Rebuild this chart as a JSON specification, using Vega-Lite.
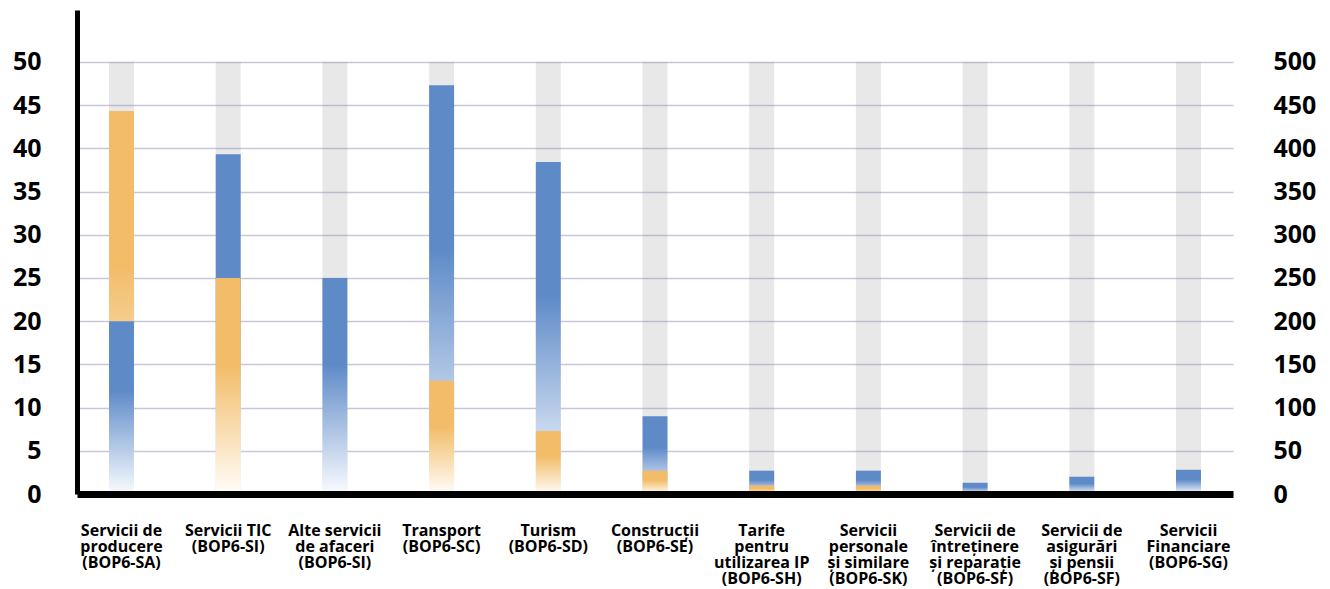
{
  "$schema": "https://vega.github.io/schema/vega-lite/v6.json",
  "width": 1156,
  "height": 484,
  "autosize": {"type": "none"},
  "padding": {"left": 77, "top": 10, "right": 97, "bottom": 95},
  "background": "white",
  "config": {
    "view": {"stroke": null},
    "font": "Open Sans",
    "axis": {"labelFont": "Open Sans", "labelFontWeight": "bold", "labelColor": "#000000", "title": null}
  },
  "data": {
    "values": [
      {"category": "Servicii de\nproducere\n(BOP6-SA)", "series": "Seria 1", "value": 20.0},
      {"category": "Servicii de\nproducere\n(BOP6-SA)", "series": "Seria 2", "value": 44.3},
      {"category": "Servicii TIC\n(BOP6-SI)", "series": "Seria 1", "value": 39.3},
      {"category": "Servicii TIC\n(BOP6-SI)", "series": "Seria 2", "value": 25.0},
      {"category": "Alte servicii\nde afaceri\n(BOP6-SI)", "series": "Seria 1", "value": 25.0},
      {"category": "Alte servicii\nde afaceri\n(BOP6-SI)", "series": "Seria 2", "value": 0},
      {"category": "Transport\n(BOP6-SC)", "series": "Seria 1", "value": 47.3},
      {"category": "Transport\n(BOP6-SC)", "series": "Seria 2", "value": 13.1},
      {"category": "Turism\n(BOP6-SD)", "series": "Seria 1", "value": 38.4},
      {"category": "Turism\n(BOP6-SD)", "series": "Seria 2", "value": 7.3},
      {"category": "Construcții\n(BOP6-SE)", "series": "Seria 1", "value": 9.0},
      {"category": "Construcții\n(BOP6-SE)", "series": "Seria 2", "value": 2.7},
      {"category": "Tarife\npentru\nutilizarea IP\n(BOP6-SH)", "series": "Seria 1", "value": 2.7},
      {"category": "Tarife\npentru\nutilizarea IP\n(BOP6-SH)", "series": "Seria 2", "value": 1.0},
      {"category": "Servicii\npersonale\nși similare\n(BOP6-SK)", "series": "Seria 1", "value": 2.7},
      {"category": "Servicii\npersonale\nși similare\n(BOP6-SK)", "series": "Seria 2", "value": 1.0},
      {"category": "Servicii de\nîntreținere\nși reparație\n(BOP6-SF)", "series": "Seria 1", "value": 1.3},
      {"category": "Servicii de\nîntreținere\nși reparație\n(BOP6-SF)", "series": "Seria 2", "value": 0},
      {"category": "Servicii de\nasigurări\nși pensii\n(BOP6-SF)", "series": "Seria 1", "value": 2.0},
      {"category": "Servicii de\nasigurări\nși pensii\n(BOP6-SF)", "series": "Seria 2", "value": 0},
      {"category": "Servicii\nFinanciare\n(BOP6-SG)", "series": "Seria 1", "value": 2.8},
      {"category": "Servicii\nFinanciare\n(BOP6-SG)", "series": "Seria 2", "value": 0}
    ]
  },
  "encoding": {
    "x": {
      "field": "category",
      "type": "nominal",
      "sort": null,
      "scale": {
        "domain": [
          "Servicii de\nproducere\n(BOP6-SA)",
          "Servicii TIC\n(BOP6-SI)",
          "Alte servicii\nde afaceri\n(BOP6-SI)",
          "Transport\n(BOP6-SC)",
          "Turism\n(BOP6-SD)",
          "Construcții\n(BOP6-SE)",
          "Tarife\npentru\nutilizarea IP\n(BOP6-SH)",
          "Servicii\npersonale\nși similare\n(BOP6-SK)",
          "Servicii de\nîntreținere\nși reparație\n(BOP6-SF)",
          "Servicii de\nasigurări\nși pensii\n(BOP6-SF)",
          "Servicii\nFinanciare\n(BOP6-SG)"
        ],
        "paddingInner": 0.766,
        "paddingOuter": 0.3
      },
      "axis": {
        "labelExpr": "split(datum.label, '\\n')",
        "labelAngle": 0,
        "labelAlign": "center",
        "labelBaseline": "top",
        "labelFontSize": 16,
        "labelLineHeight": 16,
        "labelPadding": 28,
        "labelLimit": 0,
        "ticks": false,
        "tickSize": 0,
        "domain": true,
        "domainColor": "#000000",
        "domainWidth": 7,
        "grid": false,
        "zindex": 1
      }
    }
  },
  "layer": [
    {
      "transform": [{"filter": "datum.series === 'Seria 1'"}],
      "mark": {"type": "bar", "color": "#8c8c8c", "opacity": 0.2},
      "encoding": {
        "y": {
          "datum": 500,
          "type": "quantitative",
          "scale": {"domain": [0, 560], "nice": false},
          "axis": {
            "orient": "right",
            "values": [0, 50, 100, 150, 200, 250, 300, 350, 400, 450, 500],
            "grid": false,
            "domain": false,
            "ticks": false,
            "tickSize": 0,
            "labelPadding": 40,
            "labelFontSize": 25,
            "labelAlign": "left",
            "labelBaseline": "middle"
          }
        }
      }
    },
    {
      "mark": {"type": "bar"},
      "encoding": {
        "y": {
          "field": "value",
          "type": "quantitative",
          "stack": null,
          "scale": {"domain": [0, 56], "nice": false},
          "axis": {
            "orient": "left",
            "values": [0, 5, 10, 15, 20, 25, 30, 35, 40, 45, 50],
            "grid": true,
            "gridColor": "#c9c6dc",
            "gridWidth": 1.5,
            "domain": true,
            "domainColor": "#000000",
            "domainWidth": 5,
            "ticks": false,
            "tickSize": 0,
            "labelPadding": 36,
            "labelFontSize": 25,
            "labelAlign": "right",
            "labelBaseline": "middle"
          }
        },
        "order": {"field": "value", "type": "quantitative", "sort": "descending"},
        "color": {
          "condition": {
            "test": "datum.series === 'Seria 2'",
            "value": {
              "gradient": "linear",
              "x1": 0, "y1": 1, "x2": 0, "y2": 0,
              "stops": [
                {"offset": 0, "color": "#fffdf9"},
                {"offset": 0.6, "color": "#f2bc68"},
                {"offset": 1, "color": "#f2bc68"}
              ]
            }
          },
          "value": {
            "gradient": "linear",
            "x1": 0, "y1": 1, "x2": 0, "y2": 0,
            "stops": [
              {"offset": 0, "color": "#fafcff"},
              {"offset": 0.6, "color": "#5e8ac8"},
              {"offset": 1, "color": "#5e8ac8"}
            ]
          }
        }
      }
    }
  ],
  "resolve": {"scale": {"y": "independent"}, "axis": {"y": "independent"}}
}
